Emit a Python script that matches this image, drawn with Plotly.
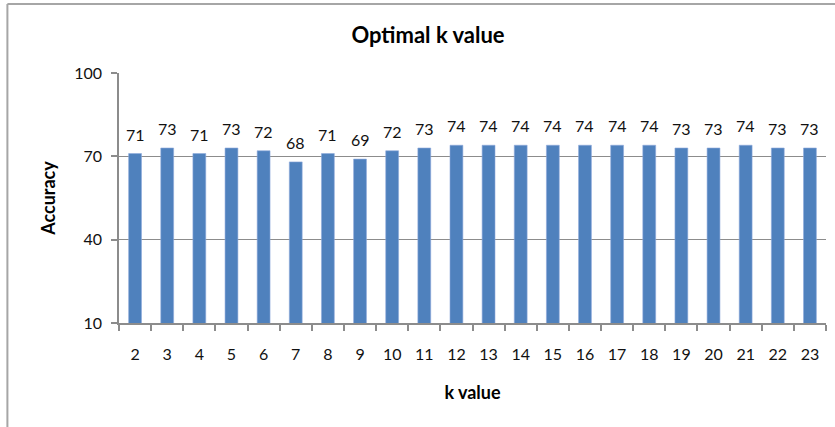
import plotly.graph_objects as go

k_values = [str(k) for k in range(2, 24)]
accuracy = [71, 73, 71, 73, 72, 68, 71, 69, 72, 73, 74, 74, 74, 74, 74, 74, 74, 73, 73, 74, 73, 73]
y_ticks = [10, 40, 70, 100]

FONT = "Lato, 'Open Sans', sans-serif"
W, H = 835, 427
ML, MR, MT, MB = 118.6, 9.4, 73, 104
PW, PH = W - ML - MR, H - MT - MB

fig = go.Figure()
fig.add_trace(go.Bar(
    x=k_values, y=accuracy,
    marker=dict(color="#4F81BD", line=dict(color="#8EAADB", width=0.6)),
    hoverinfo="x+y",
))

for i, v in enumerate(accuracy):
    fig.add_annotation(x=i, y=v, text=str(v), showarrow=False, yanchor="bottom",
                       yshift=8, font=dict(family=FONT, size=16, color="#111111"))

def px_x(x):
    return (x - ML) / PW

def px_y(y):
    return (H - MB - y) / PH

line_col = "#a6a6a6"
fig.add_shape(type="line", xref="paper", yref="paper", x0=px_x(7), x1=px_x(840),
              y0=px_y(4), y1=px_y(4), line=dict(color=line_col, width=2))
fig.add_shape(type="line", xref="paper", yref="paper", x0=px_x(7), x1=px_x(7),
              y0=px_y(4), y1=px_y(430), line=dict(color=line_col, width=2))

fig.update_layout(
    width=W, height=H,
    margin=dict(l=ML, r=MR, t=MT, b=MB),
    paper_bgcolor="white", plot_bgcolor="white",
    bargap=0.6,
    showlegend=False,
    font=dict(family=FONT, size=16, color="#111111"),
    title=dict(text="<b>Optimal k value</b>", x=(428) / W, xanchor="center",
               y=1 - 35 / H, yanchor="middle",
               font=dict(family=FONT, size=22, color="#000000")),
    xaxis=dict(
        type="category", range=[-0.5, len(k_values) - 0.5],
        showline=True, linecolor="#8c8c8c", linewidth=1.5,
        ticks="outside", tickson="boundaries", ticklen=6, tickcolor="#8c8c8c",
        tickwidth=1.5, showgrid=False, ticklabelstandoff=16,
        tickfont=dict(family=FONT, size=16, color="#111111"),
        title=dict(text="<b>k value</b>", standoff=24,
                   font=dict(family=FONT, size=18, color="#000000")),
    ),
    yaxis=dict(
        range=[10, 100], tickvals=y_ticks, showline=True, linecolor="#8c8c8c",
        linewidth=1.5, ticks="outside", ticklen=6, tickcolor="#8c8c8c", tickwidth=1.5,
        showgrid=True, gridcolor="#8c8c8c", gridwidth=1.2, zeroline=False,
        ticklabelstandoff=6,
        tickfont=dict(family=FONT, size=16, color="#111111"),
        title=dict(text="<b>Accuracy</b>", standoff=14,
                   font=dict(family=FONT, size=18, color="#000000")),
    ),
)

fig.write_html("out.html")
